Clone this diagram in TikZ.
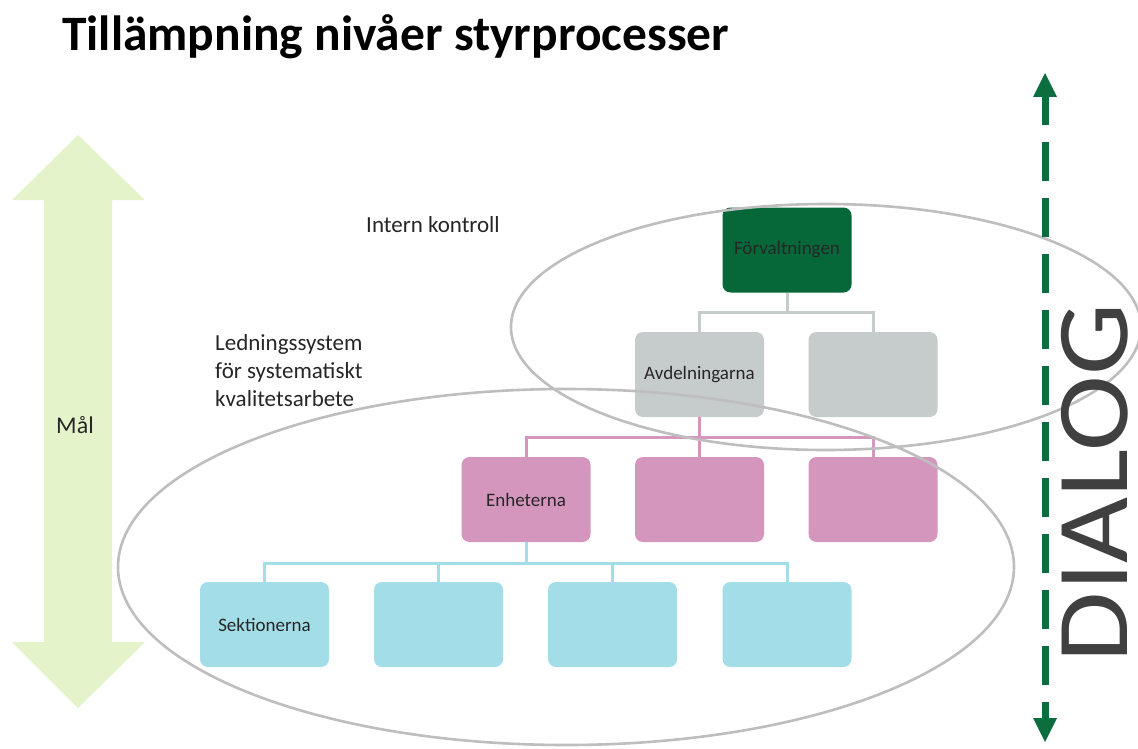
\documentclass[tikz,border=0pt]{standalone}
\usepackage{fontspec}
\setmainfont{Carlito}
\newfontfamily\dialogfont[FakeStretch=1.12]{Carlito}
\usetikzlibrary{calc}
\definecolor{forvgreen}{RGB}{6,104,56}
\definecolor{dialoggreen}{RGB}{12,110,62}
\definecolor{avdgray}{RGB}{198,203,203}
\definecolor{enhpink}{RGB}{213,150,190}
\definecolor{sekcyan}{RGB}{163,222,232}
\definecolor{malgreen}{RGB}{229,243,202}
\definecolor{ellgray}{RGB}{190,190,190}
\definecolor{dialogtext}{RGB}{64,64,64}
\definecolor{txt}{RGB}{38,38,38}
\begin{document}
\begin{tikzpicture}[x=1pt,y=-1pt,
  orgbox/.style={minimum width=129pt,minimum height=85pt,rounded corners=8pt,inner sep=0pt,
    text=txt,font=\fontsize{19}{22}\selectfont},
  treeline/.style={line width=3pt},
  ell/.style={draw=ellgray,line width=2.6pt},
  lbl/.style={text=txt,font=\fontsize{23}{28}\selectfont,inner sep=0pt}]
\useasboundingbox (0,0) rectangle (1138,749);
\fill[white] (0,0) rectangle (1138,749);

% title
\node[anchor=base west,inner sep=0pt,font=\fontsize{49.5}{56}\selectfont\bfseries] (title) at (62,51) {Tillämpning nivåer styrprocesser};

% Mål double arrow
\fill[malgreen] (78,135) -- (145,200) -- (112,200) -- (112,642) -- (145,642) -- (78,708)
  -- (12,642) -- (44,642) -- (44,200) -- (12,200) -- cycle;
\node[lbl,font=\fontsize{24}{28}\selectfont] (mal) at (75,425) {Mål};

% boxes
\node[orgbox,fill=forvgreen] (forv) at (787,250) {Förvaltningen};
\node[orgbox,fill=avdgray] (avd) at (699.5,374.5) {Avdelningarna};
\node[orgbox,fill=avdgray] (avd2) at (873,374.5) {};
\node[orgbox,fill=enhpink] (enh) at (526,499.5) {Enheterna};
\node[orgbox,fill=enhpink] (enh2) at (699.5,499.5) {};
\node[orgbox,fill=enhpink] (enh3) at (873,499.5) {};
\node[orgbox,fill=sekcyan] (sek) at (264.5,624.5) {Sektionerna};
\node[orgbox,fill=sekcyan] (sek2) at (438.5,624.5) {};
\node[orgbox,fill=sekcyan] (sek3) at (612.5,624.5) {};
\node[orgbox,fill=sekcyan] (sek4) at (787,624.5) {};

% tree connectors
\draw[treeline,avdgray] (forv.south) -- (forv.south |- 0,312);
\draw[treeline,avdgray] (avd.north) |- (0,312 -| forv.south) -| (avd2.north);
\draw[treeline,enhpink] (avd.south) -- (avd.south |- 0,437);
\draw[treeline,enhpink] (enh.north) |- (0,437 -| avd.south) -| (enh3.north);
\draw[treeline,enhpink] (enh2.north) -- (enh2.north |- 0,437);
\draw[treeline,sekcyan] (enh.south) -- (enh.south |- 0,563);
\draw[treeline,sekcyan] (sek.north) |- (0,563 -| enh.south) -| (sek4.north);
\draw[treeline,sekcyan] (sek2.north) -- (sek2.north |- 0,563);
\draw[treeline,sekcyan] (sek3.north) -- (sek3.north |- 0,563);

% labels
\node[lbl,anchor=base west] (intern) at (366,232) {Intern kontroll};
\node[lbl,anchor=north west,align=left] (ledn) at (215,334)
  {Ledningssystem\\för systematiskt\\kvalitetsarbete};

% ellipses
\draw[ell] (826,327) ellipse [x radius=315, y radius=123];
\draw[ell] (566,567) ellipse [x radius=448, y radius=178];

% DIALOG arrow
\coordinate (dtip) at (1045,73);
\coordinate (dtop) at (1045,97);
\coordinate (dbot) at (1045,718);
\coordinate (dbtip) at (1045,742);
\fill[dialoggreen] (dtip) -- (1033,97) -- (1057,97) -- cycle;
\fill[dialoggreen] (dbtip) -- (1033,718) -- (1057,718) -- cycle;
\draw[dialoggreen,line width=7pt,dash pattern=on 39pt off 17pt,dash phase=11pt] (dtop) -- (dbot);

\node[rotate=90,inner sep=0pt,text=dialogtext,font=\dialogfont\fontsize{102}{112}\selectfont] (dialog) at (1095,483) {DIALOG};
\end{tikzpicture}
\end{document}
